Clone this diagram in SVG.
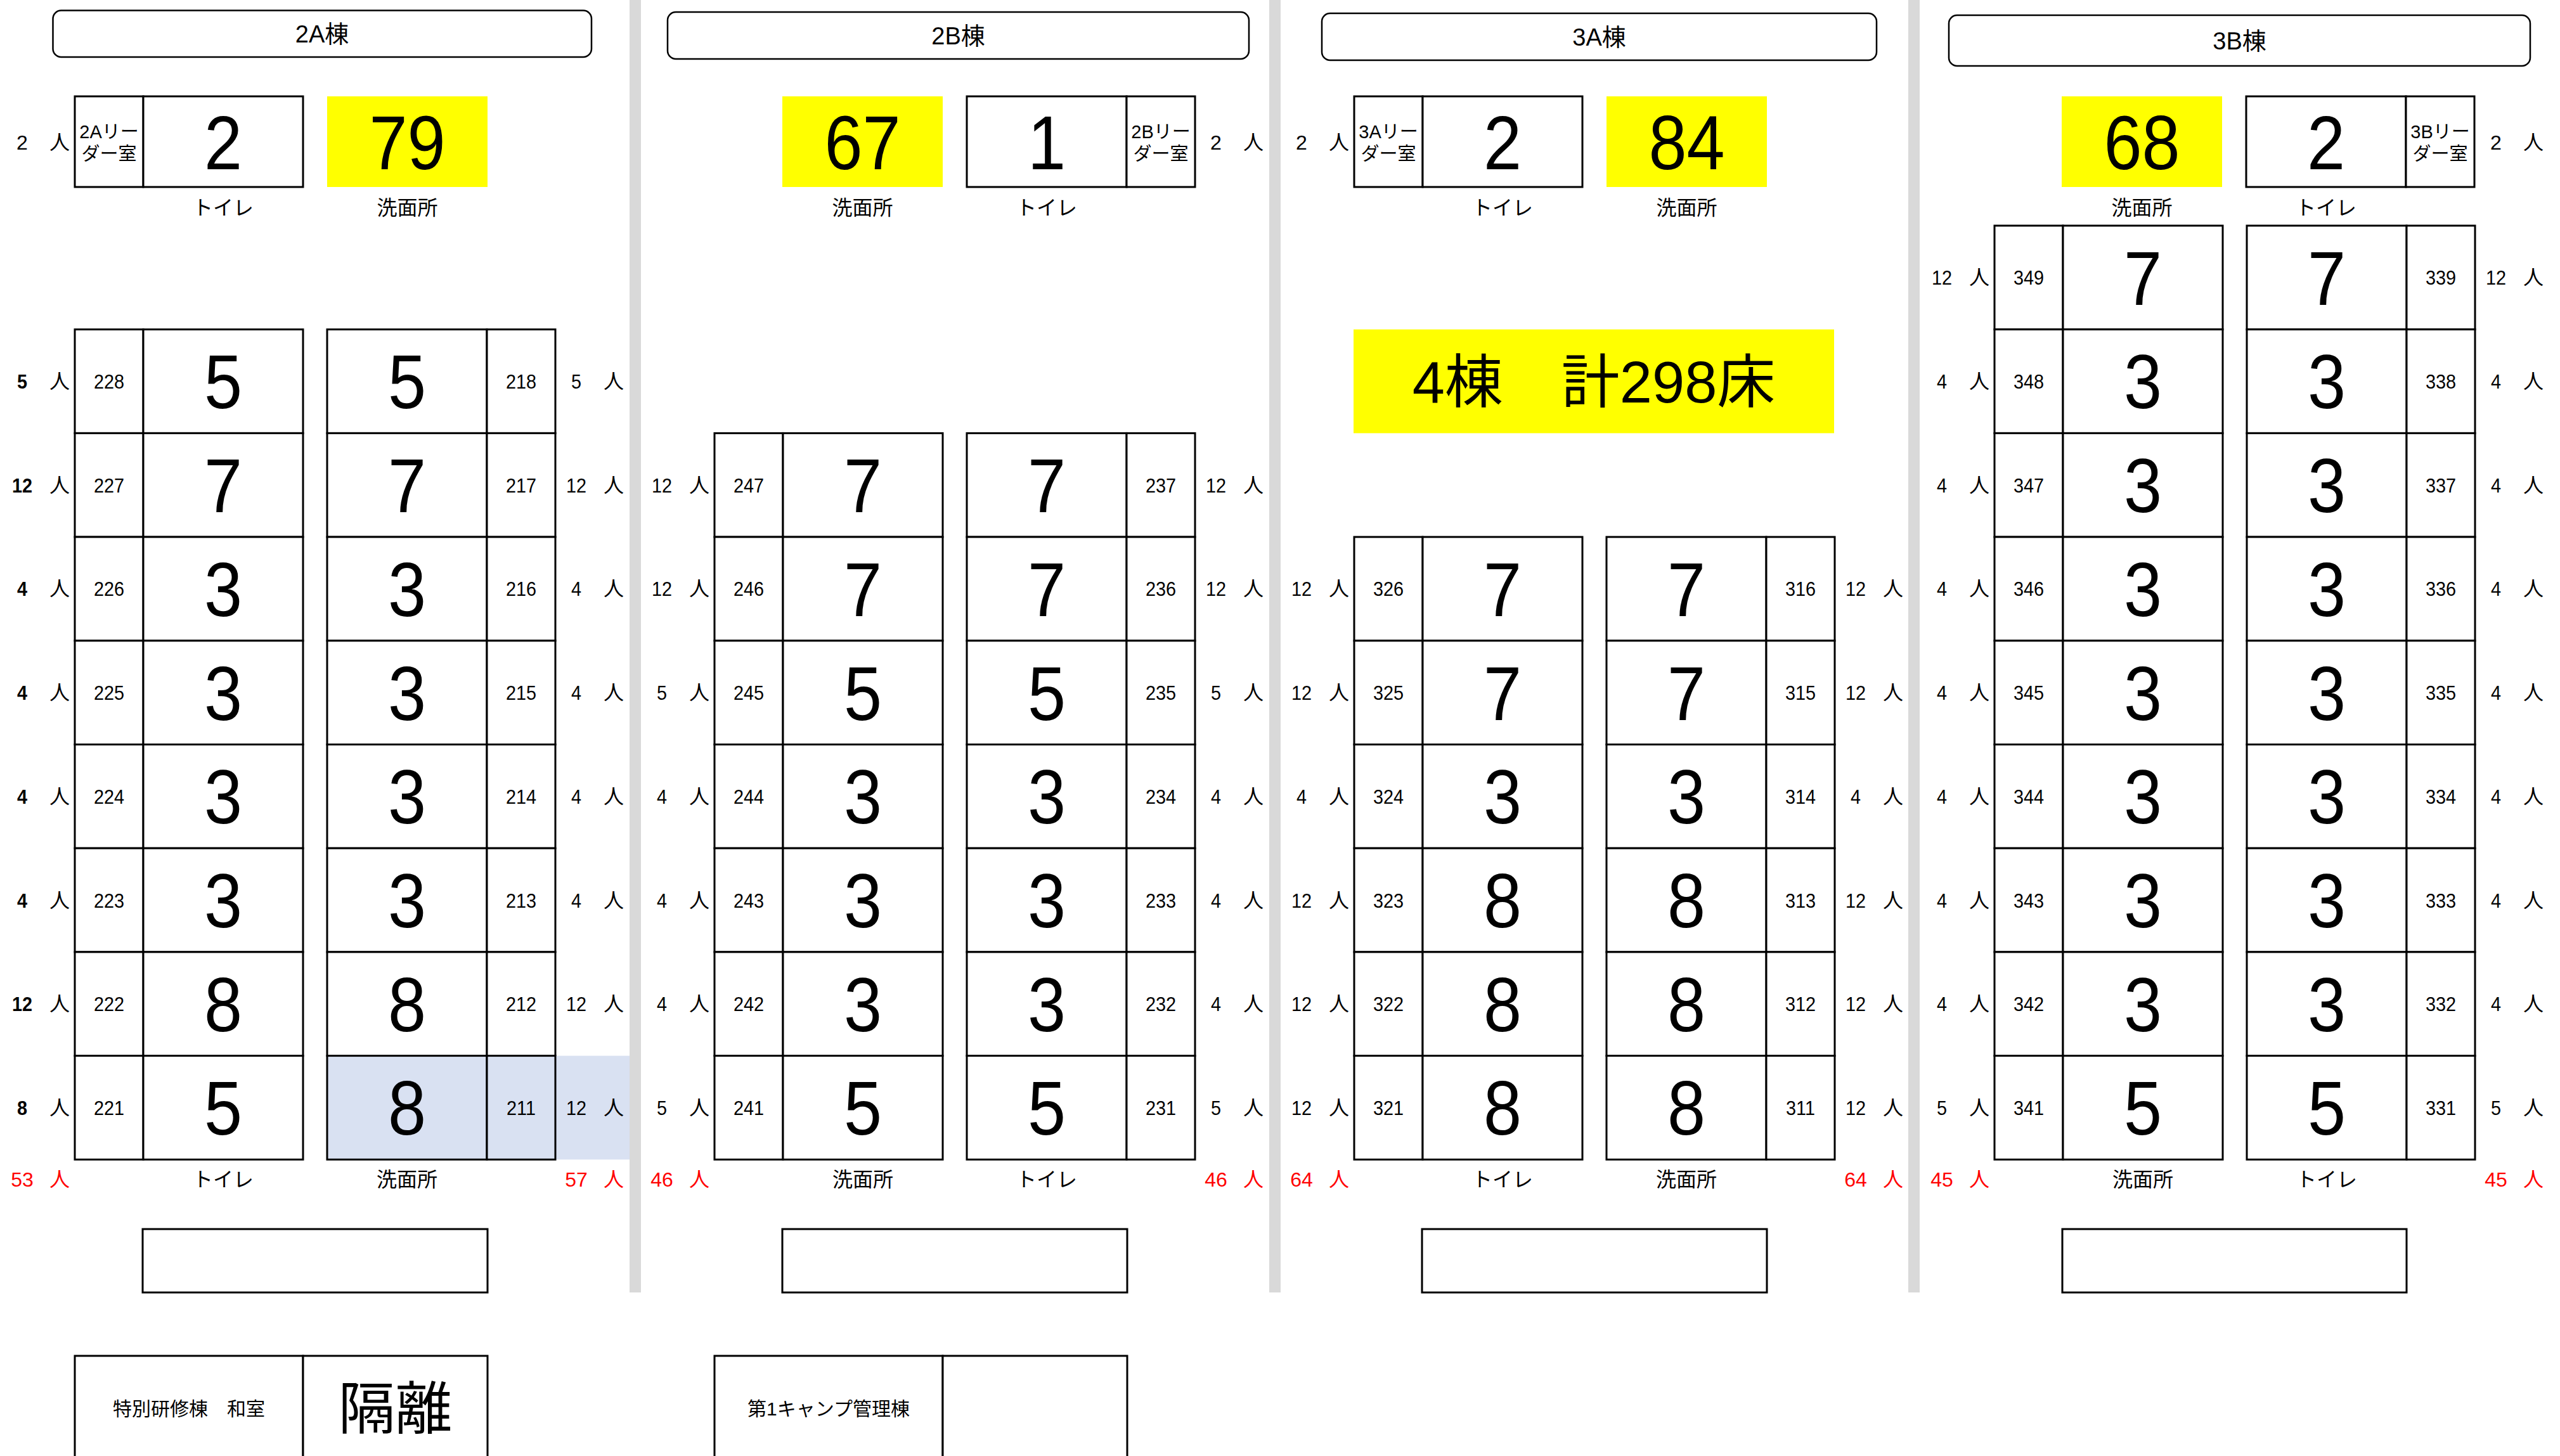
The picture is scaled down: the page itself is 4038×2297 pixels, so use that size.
<svg xmlns="http://www.w3.org/2000/svg" width="4038" height="2297" viewBox="0 0 4038 2297">
<style>
text{font-family:"Liberation Sans Narrow","Liberation Sans","Noto Sans CJK JP",sans-serif;text-anchor:middle;fill:#000}
.s{font-size:32px}
.d{font-size:120px;transform:scaleX(.9);transform-box:fill-box;transform-origin:center}
text[x="54"],text[x="306"],text[x="-83"],text[x="393"]{transform:scaleX(.9);transform-box:fill-box;transform-origin:center}
.t{font-size:38px}
.l{font-size:29px}
.k{font-size:30px}
.r{fill:#f00}
.b{font-weight:bold}
.c{fill:#fff;stroke:#000;stroke-width:3}
.cb{fill:#D9E1F2;stroke:#000;stroke-width:3}
.bl{fill:#D9E1F2}
.y{fill:#ff0}
.g{fill:#d9d9d9}
.tb{fill:#fff;stroke:#000;stroke-width:2.5}
</style>
<rect width="4038" height="2297" fill="#fff"/>
<g id="separators">
<rect class="g" x="993" y="0" width="18" height="2039"/>
<rect class="g" x="2002" y="0" width="18" height="2039"/>
<rect class="g" x="3010" y="0" width="18" height="2039"/>
</g>
<g id="connectors"/>

<!-- titles -->
<g id="title-2A"><rect class="tb" x="83.5" y="16.5" width="849.5" height="73.5" rx="13"/><text class="t" x="508" y="66.6">2A棟</text></g>
<g id="title-2B"><rect class="tb" x="1053" y="19" width="917" height="74" rx="13"/><text class="t" x="1511.5" y="69.6">2B棟</text></g>
<g id="title-3A"><rect class="tb" x="2085" y="21" width="875" height="74" rx="13"/><text class="t" x="2522.5" y="71.6">3A棟</text></g>
<g id="title-3B"><rect class="tb" x="3074" y="24" width="917" height="80" rx="13"/><text class="t" x="3532.5" y="77.6">3B棟</text></g>

<!-- top sections -->
<g id="leader-2A">
<rect class="c" x="118" y="152" width="108" height="143"/><rect class="c" x="226" y="152" width="252" height="143"/>
<text class="l" x="172" y="218">2Aリー</text><text class="l" x="172" y="253.4">ダー室</text>
<text class="d" x="352" y="267">2</text>
<text class="s" x="35" y="235.5">2</text><text class="s" x="94" y="235.5">人</text>
<text class="s" x="352" y="338.5">トイレ</text>
</g>
<g id="wash-2A"><rect class="y" x="516" y="152" width="253" height="143"/><text class="d" x="642.5" y="267">79</text><text class="s" x="642.5" y="338.5">洗面所</text></g>

<g id="wash-2B"><rect class="y" x="1234" y="152" width="253" height="143"/><text class="d" x="1360.5" y="267">67</text><text class="s" x="1360.5" y="338.5">洗面所</text></g>
<g id="leader-2B">
<rect class="c" x="1525" y="152" width="252" height="143"/><rect class="c" x="1777" y="152" width="108" height="143"/>
<text class="d" x="1651" y="267">1</text>
<text class="l" x="1831" y="218">2Bリー</text><text class="l" x="1831" y="253.4">ダー室</text>
<text class="s" x="1918" y="235.5">2</text><text class="s" x="1977" y="235.5">人</text>
<text class="s" x="1651" y="338.5">トイレ</text>
</g>

<g id="leader-3A">
<rect class="c" x="2136" y="152" width="108" height="143"/><rect class="c" x="2244" y="152" width="252" height="143"/>
<text class="l" x="2190" y="218">3Aリー</text><text class="l" x="2190" y="253.4">ダー室</text>
<text class="d" x="2370" y="267">2</text>
<text class="s" x="2053" y="235.5">2</text><text class="s" x="2112" y="235.5">人</text>
<text class="s" x="2370" y="338.5">トイレ</text>
</g>
<g id="wash-3A"><rect class="y" x="2534" y="152" width="253" height="143"/><text class="d" x="2660.5" y="267">84</text><text class="s" x="2660.5" y="338.5">洗面所</text></g>

<g id="wash-3B"><rect class="y" x="3252" y="152" width="253" height="143"/><text class="d" x="3378.5" y="267">68</text><text class="s" x="3378.5" y="338.5">洗面所</text></g>
<g id="leader-3B">
<rect class="c" x="3543" y="152" width="252" height="143"/><rect class="c" x="3795" y="152" width="108" height="143"/>
<text class="d" x="3669" y="267">2</text>
<text class="l" x="3849" y="218">3Bリー</text><text class="l" x="3849" y="253.4">ダー室</text>
<text class="s" x="3937" y="235.5">2</text><text class="s" x="3996" y="235.5">人</text>
<text class="s" x="3669" y="338.5">トイレ</text>
</g>

<g id="total-beds"><rect class="y" x="2135" y="519.7" width="758" height="163.7"/><text x="2514" y="634.5" style="font-size:92px">4棟　計298床</text></g>

<!-- 2A rooms -->
<g id="room-228" transform="translate(118 519.7)"><rect class="c" width="108" height="163.7"/><rect class="c" x="108" width="252" height="163.7"/><text class="s" x="54" y="93.4">228</text><text class="d" x="234" y="124.8">5</text><text class="s b" x="-83" y="93.4">5</text><text class="s" x="-24" y="93.4">人</text></g>
<g id="room-227" transform="translate(118 683.4)"><rect class="c" width="108" height="163.7"/><rect class="c" x="108" width="252" height="163.7"/><text class="s" x="54" y="93.4">227</text><text class="d" x="234" y="124.8">7</text><text class="s b" x="-83" y="93.4">12</text><text class="s" x="-24" y="93.4">人</text></g>
<g id="room-226" transform="translate(118 847.1)"><rect class="c" width="108" height="163.7"/><rect class="c" x="108" width="252" height="163.7"/><text class="s" x="54" y="93.4">226</text><text class="d" x="234" y="124.8">3</text><text class="s b" x="-83" y="93.4">4</text><text class="s" x="-24" y="93.4">人</text></g>
<g id="room-225" transform="translate(118 1010.8)"><rect class="c" width="108" height="163.7"/><rect class="c" x="108" width="252" height="163.7"/><text class="s" x="54" y="93.4">225</text><text class="d" x="234" y="124.8">3</text><text class="s b" x="-83" y="93.4">4</text><text class="s" x="-24" y="93.4">人</text></g>
<g id="room-224" transform="translate(118 1174.5)"><rect class="c" width="108" height="163.7"/><rect class="c" x="108" width="252" height="163.7"/><text class="s" x="54" y="93.4">224</text><text class="d" x="234" y="124.8">3</text><text class="s b" x="-83" y="93.4">4</text><text class="s" x="-24" y="93.4">人</text></g>
<g id="room-223" transform="translate(118 1338.2)"><rect class="c" width="108" height="163.7"/><rect class="c" x="108" width="252" height="163.7"/><text class="s" x="54" y="93.4">223</text><text class="d" x="234" y="124.8">3</text><text class="s b" x="-83" y="93.4">4</text><text class="s" x="-24" y="93.4">人</text></g>
<g id="room-222" transform="translate(118 1501.9)"><rect class="c" width="108" height="163.7"/><rect class="c" x="108" width="252" height="163.7"/><text class="s" x="54" y="93.4">222</text><text class="d" x="234" y="124.8">8</text><text class="s b" x="-83" y="93.4">12</text><text class="s" x="-24" y="93.4">人</text></g>
<g id="room-221" transform="translate(118 1665.6)"><rect class="c" width="108" height="163.7"/><rect class="c" x="108" width="252" height="163.7"/><text class="s" x="54" y="93.4">221</text><text class="d" x="234" y="124.8">5</text><text class="s b" x="-83" y="93.4">8</text><text class="s" x="-24" y="93.4">人</text></g>

<g id="room-218" transform="translate(516 519.7)"><rect class="c" width="252" height="163.7"/><rect class="c" x="252" width="108" height="163.7"/><text class="d" x="126" y="124.8">5</text><text class="s" x="306" y="93.4">218</text><text class="s" x="393" y="93.4">5</text><text class="s" x="452" y="93.4">人</text></g>
<g id="room-217" transform="translate(516 683.4)"><rect class="c" width="252" height="163.7"/><rect class="c" x="252" width="108" height="163.7"/><text class="d" x="126" y="124.8">7</text><text class="s" x="306" y="93.4">217</text><text class="s" x="393" y="93.4">12</text><text class="s" x="452" y="93.4">人</text></g>
<g id="room-216" transform="translate(516 847.1)"><rect class="c" width="252" height="163.7"/><rect class="c" x="252" width="108" height="163.7"/><text class="d" x="126" y="124.8">3</text><text class="s" x="306" y="93.4">216</text><text class="s" x="393" y="93.4">4</text><text class="s" x="452" y="93.4">人</text></g>
<g id="room-215" transform="translate(516 1010.8)"><rect class="c" width="252" height="163.7"/><rect class="c" x="252" width="108" height="163.7"/><text class="d" x="126" y="124.8">3</text><text class="s" x="306" y="93.4">215</text><text class="s" x="393" y="93.4">4</text><text class="s" x="452" y="93.4">人</text></g>
<g id="room-214" transform="translate(516 1174.5)"><rect class="c" width="252" height="163.7"/><rect class="c" x="252" width="108" height="163.7"/><text class="d" x="126" y="124.8">3</text><text class="s" x="306" y="93.4">214</text><text class="s" x="393" y="93.4">4</text><text class="s" x="452" y="93.4">人</text></g>
<g id="room-213" transform="translate(516 1338.2)"><rect class="c" width="252" height="163.7"/><rect class="c" x="252" width="108" height="163.7"/><text class="d" x="126" y="124.8">3</text><text class="s" x="306" y="93.4">213</text><text class="s" x="393" y="93.4">4</text><text class="s" x="452" y="93.4">人</text></g>
<g id="room-212" transform="translate(516 1501.9)"><rect class="c" width="252" height="163.7"/><rect class="c" x="252" width="108" height="163.7"/><text class="d" x="126" y="124.8">8</text><text class="s" x="306" y="93.4">212</text><text class="s" x="393" y="93.4">12</text><text class="s" x="452" y="93.4">人</text></g>
<g id="room-211" transform="translate(516 1665.6)"><rect class="bl" x="360" width="117" height="163.7"/><rect class="cb" width="252" height="163.7"/><rect class="cb" x="252" width="108" height="163.7"/><text class="d" x="126" y="124.8">8</text><text class="s" x="306" y="93.4">211</text><text class="s" x="393" y="93.4">12</text><text class="s" x="452" y="93.4">人</text></g>

<!-- 2B rooms -->
<g id="room-247" transform="translate(1127 683.4)"><rect class="c" width="108" height="163.7"/><rect class="c" x="108" width="252" height="163.7"/><text class="s" x="54" y="93.4">247</text><text class="d" x="234" y="124.8">7</text><text class="s" x="-83" y="93.4">12</text><text class="s" x="-24" y="93.4">人</text></g>
<g id="room-246" transform="translate(1127 847.1)"><rect class="c" width="108" height="163.7"/><rect class="c" x="108" width="252" height="163.7"/><text class="s" x="54" y="93.4">246</text><text class="d" x="234" y="124.8">7</text><text class="s" x="-83" y="93.4">12</text><text class="s" x="-24" y="93.4">人</text></g>
<g id="room-245" transform="translate(1127 1010.8)"><rect class="c" width="108" height="163.7"/><rect class="c" x="108" width="252" height="163.7"/><text class="s" x="54" y="93.4">245</text><text class="d" x="234" y="124.8">5</text><text class="s" x="-83" y="93.4">5</text><text class="s" x="-24" y="93.4">人</text></g>
<g id="room-244" transform="translate(1127 1174.5)"><rect class="c" width="108" height="163.7"/><rect class="c" x="108" width="252" height="163.7"/><text class="s" x="54" y="93.4">244</text><text class="d" x="234" y="124.8">3</text><text class="s" x="-83" y="93.4">4</text><text class="s" x="-24" y="93.4">人</text></g>
<g id="room-243" transform="translate(1127 1338.2)"><rect class="c" width="108" height="163.7"/><rect class="c" x="108" width="252" height="163.7"/><text class="s" x="54" y="93.4">243</text><text class="d" x="234" y="124.8">3</text><text class="s" x="-83" y="93.4">4</text><text class="s" x="-24" y="93.4">人</text></g>
<g id="room-242" transform="translate(1127 1501.9)"><rect class="c" width="108" height="163.7"/><rect class="c" x="108" width="252" height="163.7"/><text class="s" x="54" y="93.4">242</text><text class="d" x="234" y="124.8">3</text><text class="s" x="-83" y="93.4">4</text><text class="s" x="-24" y="93.4">人</text></g>
<g id="room-241" transform="translate(1127 1665.6)"><rect class="c" width="108" height="163.7"/><rect class="c" x="108" width="252" height="163.7"/><text class="s" x="54" y="93.4">241</text><text class="d" x="234" y="124.8">5</text><text class="s" x="-83" y="93.4">5</text><text class="s" x="-24" y="93.4">人</text></g>

<g id="room-237" transform="translate(1525 683.4)"><rect class="c" width="252" height="163.7"/><rect class="c" x="252" width="108" height="163.7"/><text class="d" x="126" y="124.8">7</text><text class="s" x="306" y="93.4">237</text><text class="s" x="393" y="93.4">12</text><text class="s" x="452" y="93.4">人</text></g>
<g id="room-236" transform="translate(1525 847.1)"><rect class="c" width="252" height="163.7"/><rect class="c" x="252" width="108" height="163.7"/><text class="d" x="126" y="124.8">7</text><text class="s" x="306" y="93.4">236</text><text class="s" x="393" y="93.4">12</text><text class="s" x="452" y="93.4">人</text></g>
<g id="room-235" transform="translate(1525 1010.8)"><rect class="c" width="252" height="163.7"/><rect class="c" x="252" width="108" height="163.7"/><text class="d" x="126" y="124.8">5</text><text class="s" x="306" y="93.4">235</text><text class="s" x="393" y="93.4">5</text><text class="s" x="452" y="93.4">人</text></g>
<g id="room-234" transform="translate(1525 1174.5)"><rect class="c" width="252" height="163.7"/><rect class="c" x="252" width="108" height="163.7"/><text class="d" x="126" y="124.8">3</text><text class="s" x="306" y="93.4">234</text><text class="s" x="393" y="93.4">4</text><text class="s" x="452" y="93.4">人</text></g>
<g id="room-233" transform="translate(1525 1338.2)"><rect class="c" width="252" height="163.7"/><rect class="c" x="252" width="108" height="163.7"/><text class="d" x="126" y="124.8">3</text><text class="s" x="306" y="93.4">233</text><text class="s" x="393" y="93.4">4</text><text class="s" x="452" y="93.4">人</text></g>
<g id="room-232" transform="translate(1525 1501.9)"><rect class="c" width="252" height="163.7"/><rect class="c" x="252" width="108" height="163.7"/><text class="d" x="126" y="124.8">3</text><text class="s" x="306" y="93.4">232</text><text class="s" x="393" y="93.4">4</text><text class="s" x="452" y="93.4">人</text></g>
<g id="room-231" transform="translate(1525 1665.6)"><rect class="c" width="252" height="163.7"/><rect class="c" x="252" width="108" height="163.7"/><text class="d" x="126" y="124.8">5</text><text class="s" x="306" y="93.4">231</text><text class="s" x="393" y="93.4">5</text><text class="s" x="452" y="93.4">人</text></g>

<!-- 3A rooms -->
<g id="room-326" transform="translate(2136 847.1)"><rect class="c" width="108" height="163.7"/><rect class="c" x="108" width="252" height="163.7"/><text class="s" x="54" y="93.4">326</text><text class="d" x="234" y="124.8">7</text><text class="s" x="-83" y="93.4">12</text><text class="s" x="-24" y="93.4">人</text></g>
<g id="room-325" transform="translate(2136 1010.8)"><rect class="c" width="108" height="163.7"/><rect class="c" x="108" width="252" height="163.7"/><text class="s" x="54" y="93.4">325</text><text class="d" x="234" y="124.8">7</text><text class="s" x="-83" y="93.4">12</text><text class="s" x="-24" y="93.4">人</text></g>
<g id="room-324" transform="translate(2136 1174.5)"><rect class="c" width="108" height="163.7"/><rect class="c" x="108" width="252" height="163.7"/><text class="s" x="54" y="93.4">324</text><text class="d" x="234" y="124.8">3</text><text class="s" x="-83" y="93.4">4</text><text class="s" x="-24" y="93.4">人</text></g>
<g id="room-323" transform="translate(2136 1338.2)"><rect class="c" width="108" height="163.7"/><rect class="c" x="108" width="252" height="163.7"/><text class="s" x="54" y="93.4">323</text><text class="d" x="234" y="124.8">8</text><text class="s" x="-83" y="93.4">12</text><text class="s" x="-24" y="93.4">人</text></g>
<g id="room-322" transform="translate(2136 1501.9)"><rect class="c" width="108" height="163.7"/><rect class="c" x="108" width="252" height="163.7"/><text class="s" x="54" y="93.4">322</text><text class="d" x="234" y="124.8">8</text><text class="s" x="-83" y="93.4">12</text><text class="s" x="-24" y="93.4">人</text></g>
<g id="room-321" transform="translate(2136 1665.6)"><rect class="c" width="108" height="163.7"/><rect class="c" x="108" width="252" height="163.7"/><text class="s" x="54" y="93.4">321</text><text class="d" x="234" y="124.8">8</text><text class="s" x="-83" y="93.4">12</text><text class="s" x="-24" y="93.4">人</text></g>

<g id="room-316" transform="translate(2534 847.1)"><rect class="c" width="252" height="163.7"/><rect class="c" x="252" width="108" height="163.7"/><text class="d" x="126" y="124.8">7</text><text class="s" x="306" y="93.4">316</text><text class="s" x="393" y="93.4">12</text><text class="s" x="452" y="93.4">人</text></g>
<g id="room-315" transform="translate(2534 1010.8)"><rect class="c" width="252" height="163.7"/><rect class="c" x="252" width="108" height="163.7"/><text class="d" x="126" y="124.8">7</text><text class="s" x="306" y="93.4">315</text><text class="s" x="393" y="93.4">12</text><text class="s" x="452" y="93.4">人</text></g>
<g id="room-314" transform="translate(2534 1174.5)"><rect class="c" width="252" height="163.7"/><rect class="c" x="252" width="108" height="163.7"/><text class="d" x="126" y="124.8">3</text><text class="s" x="306" y="93.4">314</text><text class="s" x="393" y="93.4">4</text><text class="s" x="452" y="93.4">人</text></g>
<g id="room-313" transform="translate(2534 1338.2)"><rect class="c" width="252" height="163.7"/><rect class="c" x="252" width="108" height="163.7"/><text class="d" x="126" y="124.8">8</text><text class="s" x="306" y="93.4">313</text><text class="s" x="393" y="93.4">12</text><text class="s" x="452" y="93.4">人</text></g>
<g id="room-312" transform="translate(2534 1501.9)"><rect class="c" width="252" height="163.7"/><rect class="c" x="252" width="108" height="163.7"/><text class="d" x="126" y="124.8">8</text><text class="s" x="306" y="93.4">312</text><text class="s" x="393" y="93.4">12</text><text class="s" x="452" y="93.4">人</text></g>
<g id="room-311" transform="translate(2534 1665.6)"><rect class="c" width="252" height="163.7"/><rect class="c" x="252" width="108" height="163.7"/><text class="d" x="126" y="124.8">8</text><text class="s" x="306" y="93.4">311</text><text class="s" x="393" y="93.4">12</text><text class="s" x="452" y="93.4">人</text></g>

<!-- 3B rooms -->
<g id="room-349" transform="translate(3146 356)"><rect class="c" width="108" height="163.7"/><rect class="c" x="108" width="252" height="163.7"/><text class="s" x="54" y="93.4">349</text><text class="d" x="234" y="124.8">7</text><text class="s" x="-83" y="93.4">12</text><text class="s" x="-24" y="93.4">人</text></g>
<g id="room-348" transform="translate(3146 519.7)"><rect class="c" width="108" height="163.7"/><rect class="c" x="108" width="252" height="163.7"/><text class="s" x="54" y="93.4">348</text><text class="d" x="234" y="124.8">3</text><text class="s" x="-83" y="93.4">4</text><text class="s" x="-24" y="93.4">人</text></g>
<g id="room-347" transform="translate(3146 683.4)"><rect class="c" width="108" height="163.7"/><rect class="c" x="108" width="252" height="163.7"/><text class="s" x="54" y="93.4">347</text><text class="d" x="234" y="124.8">3</text><text class="s" x="-83" y="93.4">4</text><text class="s" x="-24" y="93.4">人</text></g>
<g id="room-346" transform="translate(3146 847.1)"><rect class="c" width="108" height="163.7"/><rect class="c" x="108" width="252" height="163.7"/><text class="s" x="54" y="93.4">346</text><text class="d" x="234" y="124.8">3</text><text class="s" x="-83" y="93.4">4</text><text class="s" x="-24" y="93.4">人</text></g>
<g id="room-345" transform="translate(3146 1010.8)"><rect class="c" width="108" height="163.7"/><rect class="c" x="108" width="252" height="163.7"/><text class="s" x="54" y="93.4">345</text><text class="d" x="234" y="124.8">3</text><text class="s" x="-83" y="93.4">4</text><text class="s" x="-24" y="93.4">人</text></g>
<g id="room-344" transform="translate(3146 1174.5)"><rect class="c" width="108" height="163.7"/><rect class="c" x="108" width="252" height="163.7"/><text class="s" x="54" y="93.4">344</text><text class="d" x="234" y="124.8">3</text><text class="s" x="-83" y="93.4">4</text><text class="s" x="-24" y="93.4">人</text></g>
<g id="room-343" transform="translate(3146 1338.2)"><rect class="c" width="108" height="163.7"/><rect class="c" x="108" width="252" height="163.7"/><text class="s" x="54" y="93.4">343</text><text class="d" x="234" y="124.8">3</text><text class="s" x="-83" y="93.4">4</text><text class="s" x="-24" y="93.4">人</text></g>
<g id="room-342" transform="translate(3146 1501.9)"><rect class="c" width="108" height="163.7"/><rect class="c" x="108" width="252" height="163.7"/><text class="s" x="54" y="93.4">342</text><text class="d" x="234" y="124.8">3</text><text class="s" x="-83" y="93.4">4</text><text class="s" x="-24" y="93.4">人</text></g>
<g id="room-341" transform="translate(3146 1665.6)"><rect class="c" width="108" height="163.7"/><rect class="c" x="108" width="252" height="163.7"/><text class="s" x="54" y="93.4">341</text><text class="d" x="234" y="124.8">5</text><text class="s" x="-83" y="93.4">5</text><text class="s" x="-24" y="93.4">人</text></g>

<g id="room-339" transform="translate(3544 356)"><rect class="c" width="252" height="163.7"/><rect class="c" x="252" width="108" height="163.7"/><text class="d" x="126" y="124.8">7</text><text class="s" x="306" y="93.4">339</text><text class="s" x="393" y="93.4">12</text><text class="s" x="452" y="93.4">人</text></g>
<g id="room-338" transform="translate(3544 519.7)"><rect class="c" width="252" height="163.7"/><rect class="c" x="252" width="108" height="163.7"/><text class="d" x="126" y="124.8">3</text><text class="s" x="306" y="93.4">338</text><text class="s" x="393" y="93.4">4</text><text class="s" x="452" y="93.4">人</text></g>
<g id="room-337" transform="translate(3544 683.4)"><rect class="c" width="252" height="163.7"/><rect class="c" x="252" width="108" height="163.7"/><text class="d" x="126" y="124.8">3</text><text class="s" x="306" y="93.4">337</text><text class="s" x="393" y="93.4">4</text><text class="s" x="452" y="93.4">人</text></g>
<g id="room-336" transform="translate(3544 847.1)"><rect class="c" width="252" height="163.7"/><rect class="c" x="252" width="108" height="163.7"/><text class="d" x="126" y="124.8">3</text><text class="s" x="306" y="93.4">336</text><text class="s" x="393" y="93.4">4</text><text class="s" x="452" y="93.4">人</text></g>
<g id="room-335" transform="translate(3544 1010.8)"><rect class="c" width="252" height="163.7"/><rect class="c" x="252" width="108" height="163.7"/><text class="d" x="126" y="124.8">3</text><text class="s" x="306" y="93.4">335</text><text class="s" x="393" y="93.4">4</text><text class="s" x="452" y="93.4">人</text></g>
<g id="room-334" transform="translate(3544 1174.5)"><rect class="c" width="252" height="163.7"/><rect class="c" x="252" width="108" height="163.7"/><text class="d" x="126" y="124.8">3</text><text class="s" x="306" y="93.4">334</text><text class="s" x="393" y="93.4">4</text><text class="s" x="452" y="93.4">人</text></g>
<g id="room-333" transform="translate(3544 1338.2)"><rect class="c" width="252" height="163.7"/><rect class="c" x="252" width="108" height="163.7"/><text class="d" x="126" y="124.8">3</text><text class="s" x="306" y="93.4">333</text><text class="s" x="393" y="93.4">4</text><text class="s" x="452" y="93.4">人</text></g>
<g id="room-332" transform="translate(3544 1501.9)"><rect class="c" width="252" height="163.7"/><rect class="c" x="252" width="108" height="163.7"/><text class="d" x="126" y="124.8">3</text><text class="s" x="306" y="93.4">332</text><text class="s" x="393" y="93.4">4</text><text class="s" x="452" y="93.4">人</text></g>
<g id="room-331" transform="translate(3544 1665.6)"><rect class="c" width="252" height="163.7"/><rect class="c" x="252" width="108" height="163.7"/><text class="d" x="126" y="124.8">5</text><text class="s" x="306" y="93.4">331</text><text class="s" x="393" y="93.4">5</text><text class="s" x="452" y="93.4">人</text></g>

<!-- bottom labels -->
<g id="labels-2A"><text class="s r" x="35" y="1871.5">53</text><text class="s r" x="94" y="1871.5">人</text><text class="s" x="352" y="1871.5">トイレ</text><text class="s" x="642" y="1871.5">洗面所</text><text class="s r" x="909" y="1871.5">57</text><text class="s r" x="968" y="1871.5">人</text></g>
<g id="labels-2B"><text class="s r" x="1044" y="1871.5">46</text><text class="s r" x="1103" y="1871.5">人</text><text class="s" x="1361" y="1871.5">洗面所</text><text class="s" x="1651" y="1871.5">トイレ</text><text class="s r" x="1918" y="1871.5">46</text><text class="s r" x="1977" y="1871.5">人</text></g>
<g id="labels-3A"><text class="s r" x="2053" y="1871.5">64</text><text class="s r" x="2112" y="1871.5">人</text><text class="s" x="2370" y="1871.5">トイレ</text><text class="s" x="2660" y="1871.5">洗面所</text><text class="s r" x="2927" y="1871.5">64</text><text class="s r" x="2986" y="1871.5">人</text></g>
<g id="labels-3B"><text class="s r" x="3063" y="1871.5">45</text><text class="s r" x="3122" y="1871.5">人</text><text class="s" x="3380" y="1871.5">洗面所</text><text class="s" x="3670" y="1871.5">トイレ</text><text class="s r" x="3937" y="1871.5">45</text><text class="s r" x="3996" y="1871.5">人</text></g>

<!-- empty boxes -->
<g id="box-2A"><rect class="c" x="225" y="1939" width="544" height="100"/></g>
<g id="box-2B"><rect class="c" x="1234" y="1939" width="544" height="100"/></g>
<g id="box-3A"><rect class="c" x="2243" y="1939" width="544" height="100"/></g>
<g id="box-3B"><rect class="c" x="3253" y="1939" width="543" height="100"/></g>

<!-- bottom buildings -->
<g id="special-training"><rect class="c" x="118" y="2139" width="360" height="180"/><rect class="c" x="478" y="2139" width="291" height="180"/><text class="k" x="298" y="2233">特別研修棟　和室</text><text x="623.5" y="2254" style="font-size:90px">隔離</text></g>
<g id="camp-office"><rect class="c" x="1127" y="2139" width="360" height="180"/><rect class="c" x="1487" y="2139" width="291" height="180"/><text class="k" x="1307" y="2233">第1キャンプ管理棟</text></g>
</svg>
